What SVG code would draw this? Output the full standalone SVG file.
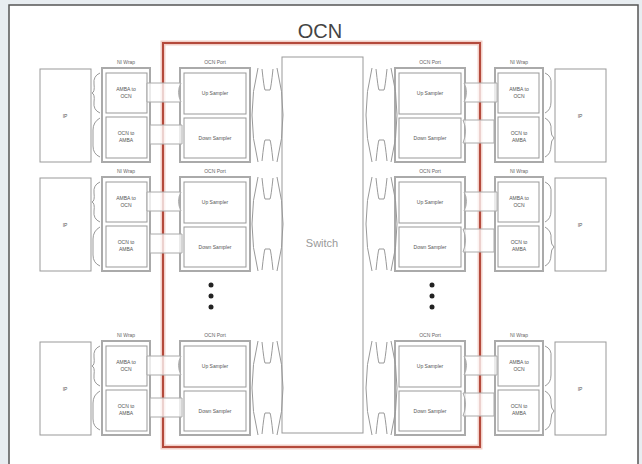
<svg xmlns="http://www.w3.org/2000/svg" width="642" height="464" viewBox="0 0 642 464">
<defs>
<style>
text{font-family:"Liberation Sans",Arial,sans-serif;fill:#555;text-anchor:middle}
.box{fill:#fff;stroke:#999;stroke-width:1}
.frame{fill:#fff;stroke:#aaa;stroke-width:2}
.lbl{font-size:5px}
.hdr{font-size:5px;fill:#666}
.ln{fill:none;stroke:#999;stroke-width:1}
.conn{fill:#fff;fill-opacity:0.75;stroke:#aaa;stroke-width:1}
</style>
</defs>
<rect x="0" y="0" width="642" height="464" fill="#e8edf1"/>
<rect x="9" y="5" width="629" height="470" fill="#fff" stroke="#555" stroke-width="1.5"/>
<text x="320" y="38" style="font-size:20px;fill:#444">OCN</text>
<g id="ocn-frame">
<rect x="163" y="43" width="317" height="404" fill="none" stroke="#f2cfc8" stroke-width="5"/>
<rect x="163" y="43" width="317" height="404" fill="none" stroke="#b44a3c" stroke-width="2"/>
</g>
<g id="switch">
<rect x="282" y="57" width="81" height="376" class="box"/>
<text x="322" y="247" style="font-size:11px;fill:#999">Switch</text>
</g>

<!-- left rows -->
<g id="left-row1">
<g id="ip-l1"><rect x="40" y="69" width="51" height="93" class="box"/><text x="65" y="118" class="lbl">IP</text></g>
<g id="ni-l1"><text x="126" y="64" class="hdr">NI Wrap</text><rect x="102" y="68" width="48" height="94" class="frame"/>
<rect x="106" y="73" width="41" height="40" class="box"/><text x="126" y="91" class="lbl">AMBA to</text><text x="126" y="98" class="lbl">OCN</text>
<rect x="106" y="117" width="41" height="41" class="box"/><text x="126" y="135" class="lbl">OCN to</text><text x="126" y="142" class="lbl">AMBA</text></g>
<g id="port-l1"><text x="215" y="64" class="hdr">OCN Port</text><rect x="180" y="68" width="70" height="94" class="frame"/>
<rect x="184" y="73" width="62" height="41" class="box"/><text x="215" y="95" class="lbl">Up Sampler</text>
<rect x="184" y="118" width="62" height="40" class="box"/><text x="215" y="140" class="lbl">Down Sampler</text></g>
</g>
<g id="left-row2" transform="translate(0,109)">
<g id="ip-l2"><rect x="40" y="69" width="51" height="93" class="box"/><text x="65" y="118" class="lbl">IP</text></g>
<g id="ni-l2"><text x="126" y="64" class="hdr">NI Wrap</text><rect x="102" y="68" width="48" height="94" class="frame"/>
<rect x="106" y="73" width="41" height="40" class="box"/><text x="126" y="91" class="lbl">AMBA to</text><text x="126" y="98" class="lbl">OCN</text>
<rect x="106" y="117" width="41" height="41" class="box"/><text x="126" y="135" class="lbl">OCN to</text><text x="126" y="142" class="lbl">AMBA</text></g>
<g id="port-l2"><text x="215" y="64" class="hdr">OCN Port</text><rect x="180" y="68" width="70" height="94" class="frame"/>
<rect x="184" y="73" width="62" height="41" class="box"/><text x="215" y="95" class="lbl">Up Sampler</text>
<rect x="184" y="118" width="62" height="40" class="box"/><text x="215" y="140" class="lbl">Down Sampler</text></g>
</g>
<g id="left-row3" transform="translate(0,273)">
<g id="ip-l3"><rect x="40" y="69" width="51" height="93" class="box"/><text x="65" y="118" class="lbl">IP</text></g>
<g id="ni-l3"><text x="126" y="64" class="hdr">NI Wrap</text><rect x="102" y="68" width="48" height="94" class="frame"/>
<rect x="106" y="73" width="41" height="40" class="box"/><text x="126" y="91" class="lbl">AMBA to</text><text x="126" y="98" class="lbl">OCN</text>
<rect x="106" y="117" width="41" height="41" class="box"/><text x="126" y="135" class="lbl">OCN to</text><text x="126" y="142" class="lbl">AMBA</text></g>
<g id="port-l3"><text x="215" y="64" class="hdr">OCN Port</text><rect x="180" y="68" width="70" height="94" class="frame"/>
<rect x="184" y="73" width="62" height="41" class="box"/><text x="215" y="95" class="lbl">Up Sampler</text>
<rect x="184" y="118" width="62" height="40" class="box"/><text x="215" y="140" class="lbl">Down Sampler</text></g>
</g>

<!-- right rows -->
<g id="right-row1">
<g id="port-r1"><text x="430" y="64" class="hdr">OCN Port</text><rect x="395" y="68" width="70" height="94" class="frame"/>
<rect x="399" y="73" width="62" height="41" class="box"/><text x="430" y="95" class="lbl">Up Sampler</text>
<rect x="399" y="118" width="62" height="40" class="box"/><text x="430" y="140" class="lbl">Down Sampler</text></g>
<g id="ni-r1"><text x="519" y="64" class="hdr">NI Wrap</text><rect x="495" y="68" width="48" height="94" class="frame"/>
<rect x="498" y="73" width="41" height="40" class="box"/><text x="519" y="91" class="lbl">AMBA to</text><text x="519" y="98" class="lbl">OCN</text>
<rect x="498" y="117" width="41" height="41" class="box"/><text x="519" y="135" class="lbl">OCN to</text><text x="519" y="142" class="lbl">AMBA</text></g>
<g id="ip-r1"><rect x="555" y="69" width="51" height="93" class="box"/><text x="580" y="118" class="lbl">IP</text></g>
</g>
<g id="right-row2" transform="translate(0,109)">
<g id="port-r2"><text x="430" y="64" class="hdr">OCN Port</text><rect x="395" y="68" width="70" height="94" class="frame"/>
<rect x="399" y="73" width="62" height="41" class="box"/><text x="430" y="95" class="lbl">Up Sampler</text>
<rect x="399" y="118" width="62" height="40" class="box"/><text x="430" y="140" class="lbl">Down Sampler</text></g>
<g id="ni-r2"><text x="519" y="64" class="hdr">NI Wrap</text><rect x="495" y="68" width="48" height="94" class="frame"/>
<rect x="498" y="73" width="41" height="40" class="box"/><text x="519" y="91" class="lbl">AMBA to</text><text x="519" y="98" class="lbl">OCN</text>
<rect x="498" y="117" width="41" height="41" class="box"/><text x="519" y="135" class="lbl">OCN to</text><text x="519" y="142" class="lbl">AMBA</text></g>
<g id="ip-r2"><rect x="555" y="69" width="51" height="93" class="box"/><text x="580" y="118" class="lbl">IP</text></g>
</g>
<g id="right-row3" transform="translate(0,273)">
<g id="port-r3"><text x="430" y="64" class="hdr">OCN Port</text><rect x="395" y="68" width="70" height="94" class="frame"/>
<rect x="399" y="73" width="62" height="41" class="box"/><text x="430" y="95" class="lbl">Up Sampler</text>
<rect x="399" y="118" width="62" height="40" class="box"/><text x="430" y="140" class="lbl">Down Sampler</text></g>
<g id="ni-r3"><text x="519" y="64" class="hdr">NI Wrap</text><rect x="495" y="68" width="48" height="94" class="frame"/>
<rect x="498" y="73" width="41" height="40" class="box"/><text x="519" y="91" class="lbl">AMBA to</text><text x="519" y="98" class="lbl">OCN</text>
<rect x="498" y="117" width="41" height="41" class="box"/><text x="519" y="135" class="lbl">OCN to</text><text x="519" y="142" class="lbl">AMBA</text></g>
<g id="ip-r3"><rect x="555" y="69" width="51" height="93" class="box"/><text x="580" y="118" class="lbl">IP</text></g>
</g>

<g id="connectors">
<g id="conn-row1">
<path class="conn" d="M147 83 H181 Q176 92 181 102 H147 Z"/>
<path class="conn" d="M150 125 H182 V144 H150 Z"/>
<path class="ln" d="M100 73 Q93 76 94 84 Q95 92 92 93 Q95 94 94 102 Q93 110 100 113"/>
<path class="ln" d="M100 118 Q93 122 93 130 V146 Q93 154 100 157"/>
<path class="ln" d="M258 68 Q246 115 258 162 M277 68 Q289 115 277 162 M262 69 Q264 88 265 90 H270 Q271 88 273 69 M262 161 Q264 142 265 140 H270 Q271 142 273 161"/>
<path class="conn" d="M464 83 H497 V102 H464 Q469 92 464 83 Z"/>
<path class="conn" d="M463 120 H494 V143 H463 Q468 131 463 120 Z"/>
<path class="ln" d="M545 73 Q552 76 551 84 V102 Q551 110 545 113"/>
<path class="ln" d="M545 118 Q552 122 551 130 Q551 136 554 138 Q551 140 551 146 Q551 154 545 157"/>
<path class="ln" d="M372 68 Q360 115 372 162 M391 68 Q403 115 391 162 M376 69 Q378 88 379 90 H384 Q385 88 387 69 M376 161 Q378 142 379 140 H384 Q385 142 387 161"/>
</g>
<g id="conn-row2" transform="translate(0,109)">
<path class="conn" d="M147 83 H181 Q176 92 181 102 H147 Z"/>
<path class="conn" d="M150 125 H182 V144 H150 Z"/>
<path class="ln" d="M100 73 Q93 76 94 84 Q95 92 92 93 Q95 94 94 102 Q93 110 100 113"/>
<path class="ln" d="M100 118 Q93 122 93 130 V146 Q93 154 100 157"/>
<path class="ln" d="M258 68 Q246 115 258 162 M277 68 Q289 115 277 162 M262 69 Q264 88 265 90 H270 Q271 88 273 69 M262 161 Q264 142 265 140 H270 Q271 142 273 161"/>
<path class="conn" d="M464 83 H497 V102 H464 Q469 92 464 83 Z"/>
<path class="conn" d="M463 120 H494 V143 H463 Q468 131 463 120 Z"/>
<path class="ln" d="M545 73 Q552 76 551 84 V102 Q551 110 545 113"/>
<path class="ln" d="M545 118 Q552 122 551 130 Q551 136 554 138 Q551 140 551 146 Q551 154 545 157"/>
<path class="ln" d="M372 68 Q360 115 372 162 M391 68 Q403 115 391 162 M376 69 Q378 88 379 90 H384 Q385 88 387 69 M376 161 Q378 142 379 140 H384 Q385 142 387 161"/>
</g>
<g id="conn-row3" transform="translate(0,273)">
<path class="conn" d="M147 83 H181 Q176 92 181 102 H147 Z"/>
<path class="conn" d="M150 125 H182 V144 H150 Z"/>
<path class="ln" d="M100 73 Q93 76 94 84 Q95 92 92 93 Q95 94 94 102 Q93 110 100 113"/>
<path class="ln" d="M100 118 Q93 122 93 130 V146 Q93 154 100 157"/>
<path class="ln" d="M258 68 Q246 115 258 162 M277 68 Q289 115 277 162 M262 69 Q264 88 265 90 H270 Q271 88 273 69 M262 161 Q264 142 265 140 H270 Q271 142 273 161"/>
<path class="conn" d="M464 83 H497 V102 H464 Q469 92 464 83 Z"/>
<path class="conn" d="M463 120 H494 V143 H463 Q468 131 463 120 Z"/>
<path class="ln" d="M545 73 Q552 76 551 84 V102 Q551 110 545 113"/>
<path class="ln" d="M545 118 Q552 122 551 130 Q551 136 554 138 Q551 140 551 146 Q551 154 545 157"/>
<path class="ln" d="M372 68 Q360 115 372 162 M391 68 Q403 115 391 162 M376 69 Q378 88 379 90 H384 Q385 88 387 69 M376 161 Q378 142 379 140 H384 Q385 142 387 161"/>
</g>
</g>

<g id="dots" fill="#222">
<circle cx="211" cy="285" r="2.5"/><circle cx="211" cy="296" r="2.5"/><circle cx="211" cy="307" r="2.5"/>
<circle cx="432" cy="285" r="2.5"/><circle cx="432" cy="296" r="2.5"/><circle cx="432" cy="307" r="2.5"/>
</g>
</svg>
